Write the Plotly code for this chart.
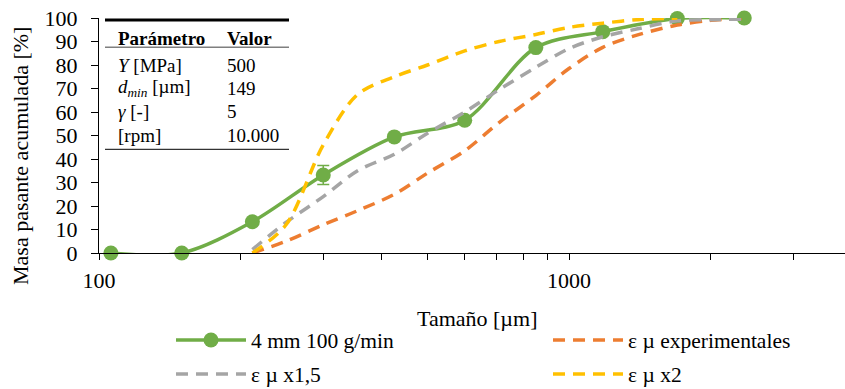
import plotly.graph_objects as go

# ---------------- data ----------------
sieve_green = [106, 150, 212, 300, 425, 600, 850, 1180, 1700, 2360]
green_vals = [0, 0, 13.3, 33.2, 49.4, 56.5, 87.4, 94.2, 99.8, 100]
green_err = [0, 0, 0, 4, 0, 0, 0, 0, 0, 0]

sieve_model = [212, 250, 300, 355, 425, 500, 600, 710, 850, 1000, 1180, 1400, 1700, 2000, 2360]
orange_vals = [0, 5, 12, 18, 25, 34, 43.5, 55.5, 67, 78.5, 87.5, 92.8, 97, 99, 99.8]
gray_vals = [1.5, 13, 24, 35, 42, 51, 60, 69.5, 79, 87, 92, 95.4, 98.8, 99.3, 99.5]
sieve_yellow = [212, 250, 300, 355, 425, 500, 600, 710, 850, 1000, 1180, 1400, 1700]
yellow_vals = [0, 12, 46, 67.5, 75, 80, 86, 90, 93, 96, 97.8, 99.3, 100]

y_ticks = [0, 10, 20, 30, 40, 50, 60, 70, 80, 90, 100]
x_ticks = [100, 1000]
x_ticktext = ["100", "1000"]
x_minor = [200, 300, 400, 500, 600, 700, 800, 900, 2000, 3000]

names = ["4 mm 100 g/min", "ε µ experimentales", "ε µ x1,5", "ε µ x2"]
table_params = ["<i>Y</i> [MPa]", "<i>d</i><sub><i>min</i></sub> [µm]", "<i>γ</i> [-]", "[rpm]"]
table_values = ["500", "149", "5", "10.000"]

GREEN, ORANGE, GRAY, YELLOW = "#70AD47", "#ED7D31", "#A5A5A5", "#FFC000"
FONT = "Liberation Serif"

# ---------------- geometry ----------------
W, H = 845, 389
L, T, R_px, B_px = 99, 18, 845, 253
PW, PH = R_px - L, B_px - T
DECADE = 470.0
x_range = [2, 2 + PW / DECADE]


def px2x(px):
    return (px - L) / PW


def py2y(py):
    return (B_px - py) / PH


fig = go.Figure()

fig.add_trace(go.Scatter(
    x=sieve_green, y=green_vals, name=names[0], mode="lines+markers",
    line=dict(color=GREEN, width=3.5, shape="spline", smoothing=0.9),
    marker=dict(color=GREEN, size=15),
    error_y=dict(type="data", array=green_err, visible=True, color=GREEN, thickness=1.5, width=6),
    cliponaxis=False, legend="legend",
))
fig.add_trace(go.Scatter(
    x=sieve_model, y=orange_vals, name=names[1], mode="lines",
    line=dict(color=ORANGE, width=3.5, dash="12px,8px", shape="spline", smoothing=0.9),
    legend="legend2",
))
fig.add_trace(go.Scatter(
    x=sieve_model, y=gray_vals, name=names[2], mode="lines",
    line=dict(color=GRAY, width=3.5, dash="12px,8px", shape="spline", smoothing=0.9),
    legend="legend3",
))
fig.add_trace(go.Scatter(
    x=sieve_yellow, y=yellow_vals, name=names[3], mode="lines",
    line=dict(color=YELLOW, width=3.5, dash="12px,8px", shape="spline", smoothing=0.9),
    legend="legend4",
))

leg_font = dict(family=FONT, size=21.5, color="black")


def leg(xpx, ypx):
    return dict(orientation="h", x=px2x(xpx), y=py2y(ypx), xanchor="left", yanchor="middle",
                font=leg_font, itemwidth=70, bgcolor="rgba(0,0,0,0)", borderwidth=0)


fig.update_layout(
    width=W, height=H,
    margin=dict(l=L, r=W - R_px, t=T, b=H - B_px, pad=0, autoexpand=False),
    paper_bgcolor="white", plot_bgcolor="white",
    font=dict(family=FONT, size=22, color="black"),
    showlegend=True,
    legend=leg(171, 340),
    legend2=leg(548, 340),
    legend3=leg(171, 374),
    legend4=leg(548, 374),
)

fig.update_xaxes(
    type="log", range=x_range, showgrid=False, zeroline=False,
    showline=True, linecolor="black", linewidth=1.3,
    tickmode="array", tickvals=x_ticks, ticktext=x_ticktext,
    ticks="outside", ticklen=6, tickcolor="black", tickwidth=1,
    ticklabelstandoff=1,
    tickfont=dict(family=FONT, size=22, color="black"),
    minor=dict(tickmode="array", tickvals=x_minor, ticks="outside", ticklen=6,
               tickcolor="black", tickwidth=1, showgrid=False),
)
fig.update_yaxes(
    range=[0, 100], showgrid=False, zeroline=False,
    showline=True, linecolor="black", linewidth=1,
    tickmode="array", tickvals=y_ticks,
    ticks="outside", ticklen=7, tickcolor="black", tickwidth=1,
    ticklabelstandoff=9,
    tickfont=dict(family=FONT, size=22, color="black"),
)

ann = []
# axis titles
ann.append(dict(text="Tamaño [µm]", x=px2x(477), y=py2y(318), xref="paper", yref="paper",
                xanchor="center", yanchor="middle", showarrow=False,
                font=dict(family=FONT, size=22, color="black")))
ann.append(dict(text="Masa pasante acumulada [%]", x=px2x(20), y=py2y(156), xref="paper", yref="paper",
                xanchor="center", yanchor="middle", showarrow=False, textangle=-90,
                font=dict(family=FONT, size=22, color="black")))

# table
tfont = dict(family=FONT, size=19, color="black")
ann.append(dict(text="<b>Parámetro</b>", x=px2x(116), y=py2y(38), xref="paper", yref="paper",
                xanchor="left", yanchor="middle", showarrow=False, font=tfont))
ann.append(dict(text="<b>Valor</b>", x=px2x(225), y=py2y(38), xref="paper", yref="paper",
                xanchor="left", yanchor="middle", showarrow=False, font=tfont))
row_y = [65, 88, 111.5, 135]
for p, v, ry in zip(table_params, table_values, row_y):
    ann.append(dict(text=p, x=px2x(116), y=py2y(ry), xref="paper", yref="paper",
                    xanchor="left", yanchor="middle", showarrow=False, font=tfont))
    ann.append(dict(text=v, x=px2x(225), y=py2y(ry), xref="paper", yref="paper",
                    xanchor="left", yanchor="middle", showarrow=False, font=tfont))
fig.update_layout(annotations=ann)

shapes = [
    dict(type="line", xref="paper", yref="paper", x0=px2x(105), x1=px2x(289), y0=py2y(20), y1=py2y(20),
         line=dict(color="black", width=3)),
    dict(type="line", xref="paper", yref="paper", x0=px2x(105), x1=px2x(289), y0=py2y(47.3), y1=py2y(47.3),
         line=dict(color="#7F7F7F", width=1.5)),
    dict(type="line", xref="paper", yref="paper", x0=px2x(105), x1=px2x(289), y0=py2y(149.3), y1=py2y(149.3),
         line=dict(color="black", width=1)),
]
fig.update_layout(shapes=shapes)

fig.write_html("out.html", config={"displayModeBar": False},
               post_script="document.body.style.margin='0px';document.body.style.overflow='hidden';")
